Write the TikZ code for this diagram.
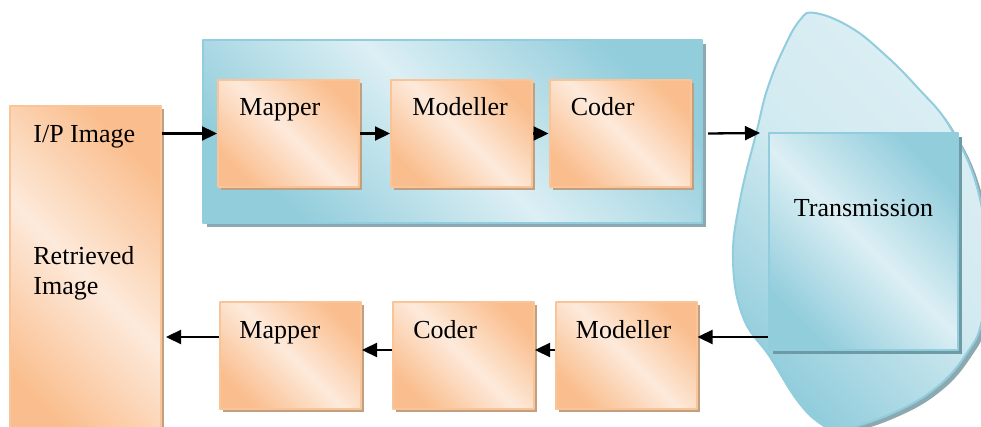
\documentclass[tikz,border=0pt]{standalone}
\usepackage{fontspec}
\setmainfont{Liberation Serif}
\usepackage{xcolor}
\usepackage{tikz}
\usetikzlibrary{arrows.meta, shadows}
\definecolor{peachdark}{RGB}{250,190,142}
\definecolor{peachlight}{RGB}{253,234,219}
\definecolor{peachedge}{RGB}{249,196,152}
\definecolor{peachshadow}{RGB}{192,160,128}
\definecolor{bluedark}{RGB}{146,205,220}
\definecolor{bluelight}{RGB}{220,239,244}
\definecolor{blueedge}{RGB}{146,205,221}
\definecolor{blueshadow}{RGB}{140,168,176}
\definecolor{transshadow}{RGB}{108,154,165}
\tikzstyle{flow} = [line width=1.15pt,-{Triangle[length=7.5pt,width=7pt]}]
\tikzstyle{peachbox} = [draw=peachedge, line width=1pt, inner sep=0pt,
  top color=peachdark, bottom color=peachdark, middle color=peachlight, shading angle=-45,
  drop shadow={shadow xshift=1.5pt, shadow yshift=-1.5pt, fill=peachshadow, opacity=1},
  minimum width=70.5pt, minimum height=53.5pt]
\tikzstyle{bluebox} = [draw=blueedge, line width=1pt, inner sep=0pt,
  top color=bluedark, bottom color=bluedark, middle color=bluelight, shading angle=-45,
  drop shadow={shadow xshift=2pt, shadow yshift=-2pt, fill=blueshadow, opacity=1}]
\tikzstyle{blob} = [draw=blueedge, line width=1pt,
  top color=bluelight, bottom color=bluedark, middle color=bluelight!85!bluedark, shading angle=-45,
  drop shadow={shadow xshift=2pt, shadow yshift=-2pt, fill=blueshadow, opacity=1}]
\tikzstyle{boxtext} = [anchor=base west, inner sep=0pt]

\begin{document}
\begin{tikzpicture}[x=0.5pt,y=-0.5pt,font=\fontsize{13}{15}\selectfont,line join=round]
\path[use as bounding box, clip] (0,0) rectangle (981,427);
% channel
\draw[blob] plot[smooth cycle, tension=0.7] coordinates {(815,13) (850,27) (883,53) (917,87) (950,127) (977,187) (987,260) (982,320) (967,353) (937,387) (893,413) (842,429) (820,423) (797,400) (770,357) (743,317) (733,260) (740,200) (757,130) (767,90) (783,50) (800,20)};
\node[bluebox, drop shadow={shadow xshift=2pt, shadow yshift=-2pt, fill=transshadow, opacity=1}, minimum width=94.5pt, minimum height=108.5pt] (trans) at (863.5,241.5) {};
% encoder
\node[bluebox, minimum width=249.5pt, minimum height=91.5pt] (stage) at (452.5,131.5) {};
\node[peachbox] (mapA) at (288.5,133.5) {};
\node[peachbox] (modA) at (461.5,133.5) {};
\node[peachbox] (codA) at (620,133.5) {};
% decoder
\node[peachbox] (mapB) at (290.5,356) {};
\node[peachbox] (codB) at (463.5,356) {};
\node[peachbox] (modB) at (626,356) {};
% image
\node[peachbox, minimum width=75.5pt, minimum height=169.5pt] (inbox) at (85.5,275.5) {};
% labels
\node[boxtext] (tin) at (33,143) {I/P Image};
\node[boxtext] (tret) at (33,265) {Retrieved};
\node[boxtext] (timg) at (33,295) {Image};
\node[boxtext] (tmapA) at ([shift={(22,37)}]mapA.north west) {Mapper};
\node[boxtext] (tmodA) at ([shift={(22,37)}]modA.north west) {Modeller};
\node[boxtext] (tcodA) at ([shift={(22,37)}]codA.north west) {Coder};
\node[boxtext] (tmapB) at ([shift={(20,37)}]mapB.north west) {Mapper};
\node[boxtext] (tcodB) at ([shift={(21,37)}]codB.north west) {Coder};
\node[boxtext] (tmodB) at ([shift={(21,37)}]modB.north west) {Modeller};
\node[anchor=base, inner sep=0pt] (ttrans) at ([shift={(0,85)}]trans.north) {Transmission};
% arrows
\coordinate (chin) at (760,133);
\draw[flow] (inbox.east |- mapA.west) -- (mapA.west);
\draw[flow] (mapA) -- (modA);
\draw[flow] (modA) -- (codA);
\draw[flow] ([xshift=2.5pt]codA.east -| stage.east) -- (chin);
\draw[flow] ([yshift=9.5pt]modB.east -| trans.west) -- ([yshift=9.5pt]modB.east);
\draw[flow] ([yshift=3pt]modB.west) -- ([yshift=3pt]codB.east);
\draw[flow] ([yshift=3pt]codB.west) -- ([yshift=3pt]mapB.east);
\draw[flow] ([yshift=9.5pt]mapB.west) -- ([xshift=2pt,yshift=9.5pt]mapB.west -| inbox.east);
\end{tikzpicture}
\end{document}
